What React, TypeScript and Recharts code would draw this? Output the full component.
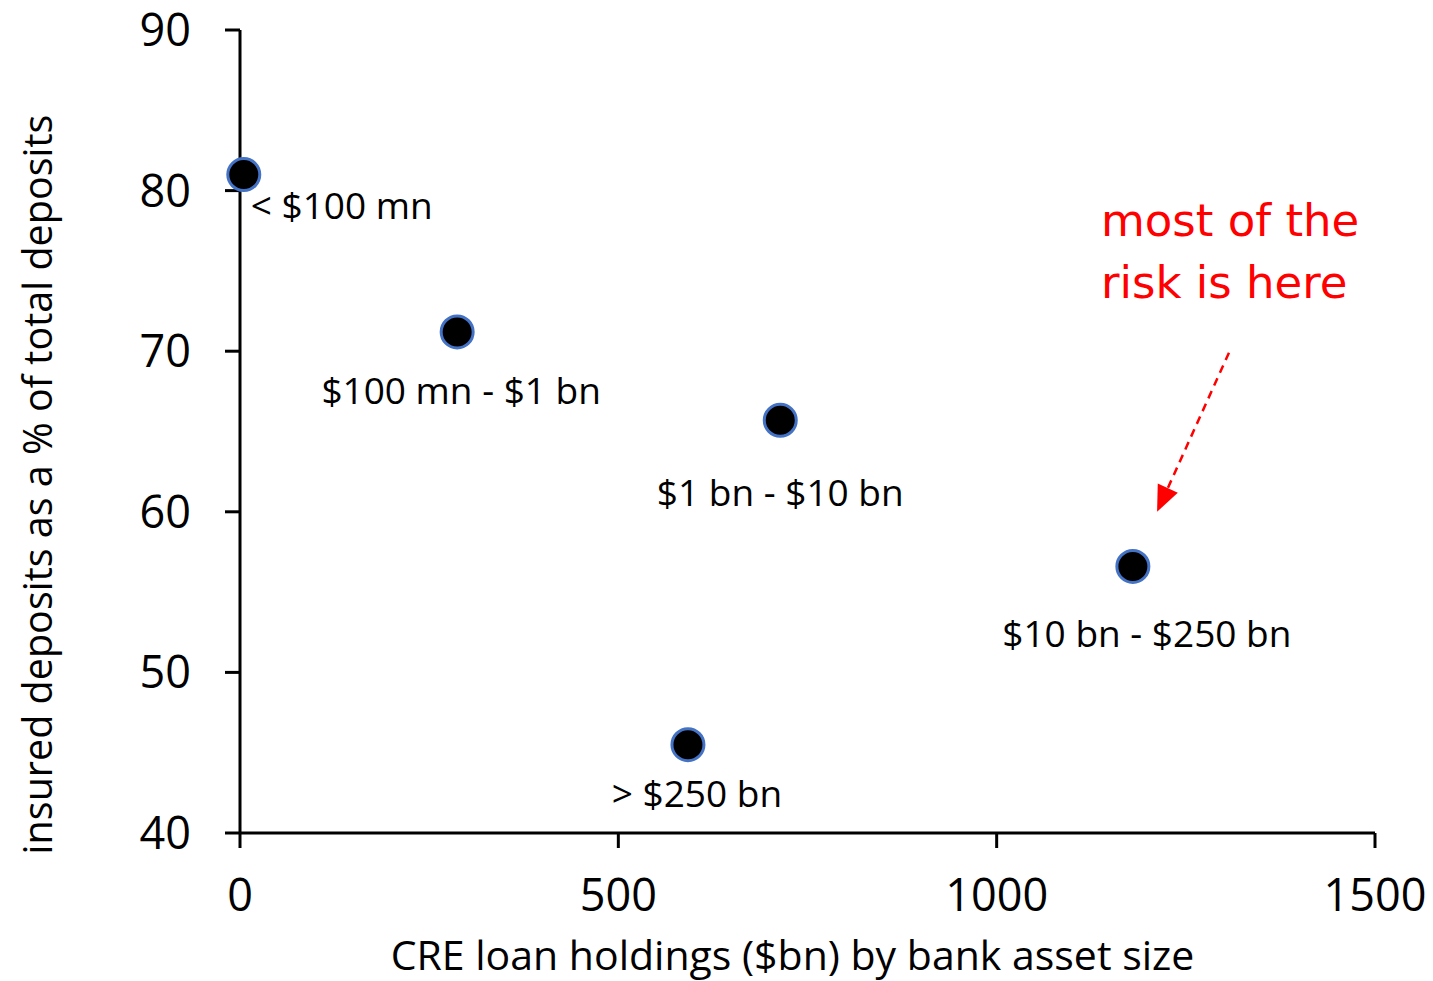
import { ScatterChart, Scatter, XAxis, YAxis, LabelList, ReferenceLine } from "recharts";

const sizeBands = ["< $100 mn", "$100 mn - $1 bn", "$1 bn - $10 bn", "$10 bn - $250 bn", "> $250 bn"];
const creHoldings = [5, 287, 714, 1180, 592];
const insuredShare = [81.0, 71.2, 65.7, 56.6, 45.5];

const xTicks = [0, 500, 1000, 1500];
const yTicks = [40, 50, 60, 70, 80, 90];

// label placement relative to each dot: [dx, dy, anchor]
const labelPlacement: [number, number, string][] = [
  [7, 30, "start"],
  [4, 58, "middle"],
  [0, 71, "middle"],
  [14, 66, "middle"],
  [9, 48, "middle"],
];

const data = sizeBands.map((band, i) => ({ band, x: creHoldings[i], y: insuredShare[i] }));

const FONT = '"Open Sans", sans-serif';

const PointLabel = (props: any) => {
  const { x, y, width, height, index, value } = props;
  const cx = x + width / 2;
  const cy = y + height / 2;
  const [dx, dy, anchor] = labelPlacement[index];
  return (
    <text x={cx + dx} y={cy + dy} textAnchor={anchor} dominantBaseline="central" fontSize={37} fontFamily={FONT} fill="#000">
      {value}
    </text>
  );
};

const Dot = (props: any) => <circle cx={props.cx} cy={props.cy} r={16} fill="#000" stroke="#4472C4" strokeWidth={3} />;

const RiskArrow = (props: any) => {
  const { x1, y1, x2, y2 } = props;
  const len = Math.hypot(x2 - x1, y2 - y1);
  const ux = (x2 - x1) / len;
  const uy = (y2 - y1) / len;
  const head = 26;
  const bx = x2 - ux * head;
  const by = y2 - uy * head;
  const px = -uy * 11;
  const py = ux * 11;
  const handFont = '"Comic Sans MS", "DejaVu Sans", sans-serif';
  return (
    <g>
      <line x1={x1} y1={y1} x2={bx} y2={by} stroke="#FF0000" strokeWidth={2.5} strokeDasharray="8 6" />
      <polygon points={`${x2},${y2} ${bx + px},${by + py} ${bx - px},${by - py}`} fill="#FF0000" />
      <text x={x1 - 128} y={y1 - 117} fontSize={45} fontFamily={handFont} fill="#FF0000">
        most of the
      </text>
      <text x={x1 - 128} y={y1 - 55} fontSize={45} fontFamily={handFont} fill="#FF0000">
        risk is here
      </text>
    </g>
  );
};

export default function App() {
  return (
    <div style={{ position: "absolute", left: 0, top: 0, background: "#fff" }}>
      <ScatterChart width={1433} height={981} margin={{ top: 30, right: 58, left: 0, bottom: 0 }}>
        <XAxis
          type="number"
          dataKey="x"
          domain={[0, 1500]}
          ticks={xTicks}
          height={148}
          stroke="#000"
          strokeWidth={3}
          tickSize={15}
          tickMargin={31}
          tick={{ fill: "#000", fontSize: 45, fontFamily: FONT }}
          label={{
            content: ({ viewBox }: any) => (
              <text x={viewBox.x + viewBox.width / 2 - 15} y={954} textAnchor="middle" dominantBaseline="central" fontSize={41} fontFamily={FONT} fill="#000">
                CRE loan holdings ($bn) by bank asset size
              </text>
            ),
          }}
        />
        <YAxis
          type="number"
          dataKey="y"
          domain={[40, 90]}
          ticks={yTicks}
          width={240}
          stroke="#000"
          strokeWidth={3}
          tickSize={15}
          tickMargin={34}
          tick={{ fill: "#000", fontSize: 45, fontFamily: FONT }}
          label={{
            content: ({ viewBox }: any) => {
              const cx = 37;
              const cy = viewBox.y + viewBox.height / 2 + 53;
              return (
                <text x={cx} y={cy} transform={`rotate(-90, ${cx}, ${cy})`} textAnchor="middle" dominantBaseline="central" fontSize={39.5} fontFamily={FONT} fill="#000">
                  insured deposits as a % of total deposits
                </text>
              );
            },
          }}
        />
        <ReferenceLine
          segment={[{ x: 1307, y: 69.9 }, { x: 1212, y: 60.0 }]}
          ifOverflow="visible"
          shape={RiskArrow}
        />
        <Scatter data={data} shape={Dot} isAnimationActive={false}>
          <LabelList dataKey="band" content={PointLabel} />
        </Scatter>
      </ScatterChart>
    </div>
  );
}
